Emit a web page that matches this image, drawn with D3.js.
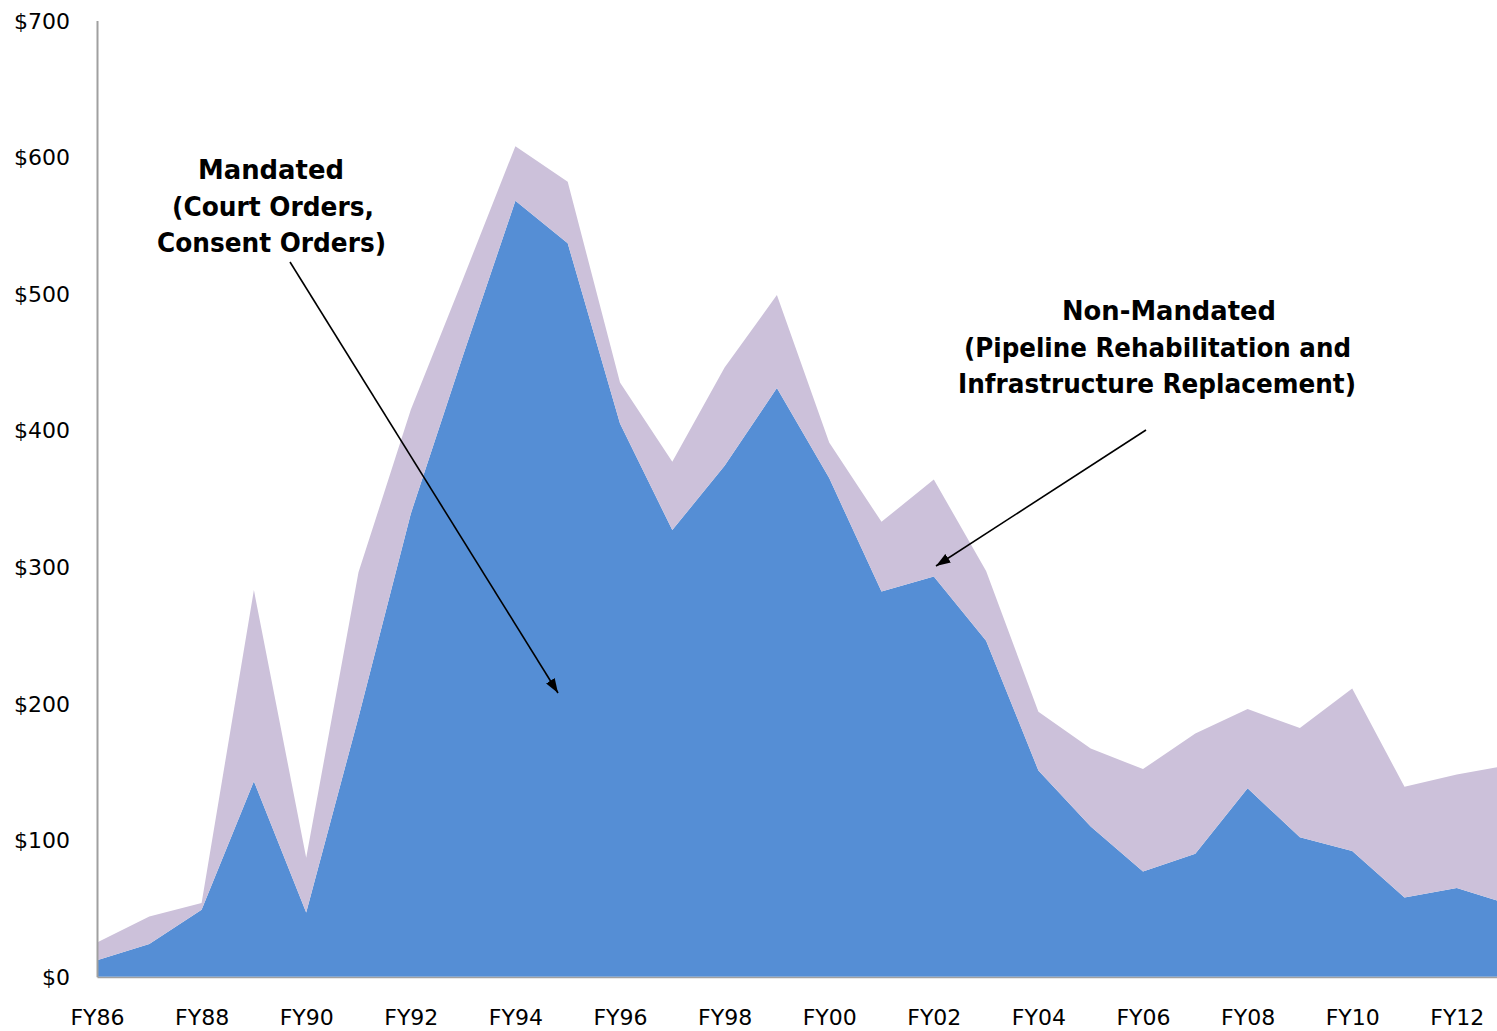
<!DOCTYPE html>
<html>
<head>
<meta charset="utf-8">
<script src="https://cdn.jsdelivr.net/npm/d3@7"></script>
<style>
  html, body { margin: 0; padding: 0; background: #fff; }
  svg { display: block; }
  .axis text { font-family: "DejaVu Sans", Verdana, sans-serif; font-size: 22px; fill: #000; }
  .note { font-family: "DejaVu Sans", Verdana, sans-serif; font-size: 26px; font-weight: bold; fill: #000; }
</style>
</head>
<body>
<svg id="chart" width="1497" height="1031"></svg>
<script>
// Fiscal years (FY86 .. FY13)
const years = [1986, 1987, 1988, 1989, 1990, 1991, 1992, 1993, 1994, 1995,
               1996, 1997, 1998, 1999, 2000, 2001, 2002, 2003, 2004, 2005,
               2006, 2007, 2008, 2009, 2010, 2011, 2012, 2013];

// Mandated spending (court orders, consent orders), $ millions
const mandated = [12, 24, 49, 143, 47, 190, 339, 455, 568, 537,
                  405, 327, 374, 431, 365, 282, 293, 246, 151, 110,
                  77, 90, 138, 102, 92, 58, 65, 53];

// Non-mandated spending (pipeline rehabilitation, infrastructure replacement), $ millions
const nonMandated = [13, 20, 5, 140, 40, 106, 76, 56, 40, 45,
                     30, 50, 72, 68, 26, 51, 71, 51, 43, 57,
                     75, 88, 58, 80, 119, 81, 83, 102];

// Axis ticks
const yTicks = [0, 100, 200, 300, 400, 500, 600, 700];
const xTickYears = [1986, 1988, 1990, 1992, 1994, 1996, 1998, 2000, 2002, 2004, 2006, 2008, 2010, 2012];
const xTickLabels = ["FY86", "FY88", "FY90", "FY92", "FY94", "FY96", "FY98",
                     "FY00", "FY02", "FY04", "FY06", "FY08", "FY10", "FY12"];

const seriesKeys = ["mandated", "nonMandated"];
const seriesColors = { mandated: "#558ed5", nonMandated: "#ccc1da" };

const rows = years.map((y, i) => ({ year: y, mandated: mandated[i], nonMandated: nonMandated[i] }));

const svg = d3.select("#chart");
const W = 1497, H = 1031;

const x = d3.scaleLinear().domain([1986, 2013]).range([97, 97 + 27 * 52.3]);
const y = d3.scaleLinear().domain([0, 700]).range([976.7, 20.5]);

svg.append("clipPath").attr("id", "plotClip")
  .append("rect").attr("x", 0).attr("y", 0).attr("width", W).attr("height", H);

const stacked = d3.stack().keys(seriesKeys)(rows);

const area = d3.area()
  .x(d => x(d.data.year))
  .y0(d => y(d[0]))
  .y1(d => y(d[1]));

svg.append("g").attr("clip-path", "url(#plotClip)")
  .selectAll("path.layer")
  .data(stacked)
  .join("path")
  .attr("class", "layer")
  .attr("fill", d => seriesColors[d.key])
  .attr("d", area);

// Y axis
const yAxis = svg.append("g")
  .attr("class", "axis")
  .attr("transform", `translate(${x(1986)},0)`)
  .call(d3.axisLeft(y).tickValues(yTicks).tickSize(0).tickSizeOuter(0).tickFormat(d => "$" + d));
yAxis.select(".domain").attr("stroke", "#a0a0a0").attr("stroke-width", 2);
yAxis.selectAll("text").attr("x", -27).attr("dy", null).attr("dominant-baseline", "central");

// X axis
const xAxis = svg.append("g")
  .attr("class", "axis")
  .attr("clip-path", "url(#plotClip)")
  .attr("transform", `translate(0,${y(0)})`)
  .call(d3.axisBottom(x).tickValues(xTickYears).tickSize(0).tickSizeOuter(0)
    .tickFormat((d, i) => xTickLabels[i]));
xAxis.select(".domain").attr("stroke", "#a0a0a0").attr("stroke-width", 2);
xAxis.selectAll("text").attr("y", 41).attr("dy", null).attr("dominant-baseline", "central");

// Arrow marker
svg.append("defs").append("marker")
  .attr("id", "arrowHead")
  .attr("viewBox", "0 0 10 7")
  .attr("refX", 10).attr("refY", 3.5)
  .attr("markerWidth", 9).attr("markerHeight", 6.3)
  .attr("markerUnits", "strokeWidth")
  .attr("orient", "auto")
  .append("path").attr("d", "M0,0 L10,3.5 L0,7 Z").attr("fill", "#000");

// Annotations: one text block per series with a pointer arrow
const notes = [
  { lines: ["Mandated", "(Court Orders,", "Consent Orders)"],
    cx: [271, 273, 271.5], widths: [146, 202, 229], top: 170,
    arrow: [[290, 262], [558, 693]] },
  { lines: ["Non-Mandated", "(Pipeline Rehabilitation and", "Infrastructure Replacement)"],
    cx: [1169, 1157.5, 1157], widths: [214, 387, 398], top: 311,
    arrow: [[1146, 430], [936, 566]] }
];

notes.forEach(n => {
  const t = svg.append("text").attr("class", "note").attr("text-anchor", "middle");
  n.lines.forEach((l, i) => {
    t.append("tspan").attr("x", n.cx[i]).attr("y", n.top + i * 36.5)
      .attr("dominant-baseline", "central")
      .attr("textLength", n.widths[i]).attr("lengthAdjust", "spacingAndGlyphs")
      .text(l);
  });
  svg.append("line")
    .attr("x1", n.arrow[0][0]).attr("y1", n.arrow[0][1])
    .attr("x2", n.arrow[1][0]).attr("y2", n.arrow[1][1])
    .attr("stroke", "#000").attr("stroke-width", 1.6)
    .attr("marker-end", "url(#arrowHead)");
});
</script>
</body>
</html>
